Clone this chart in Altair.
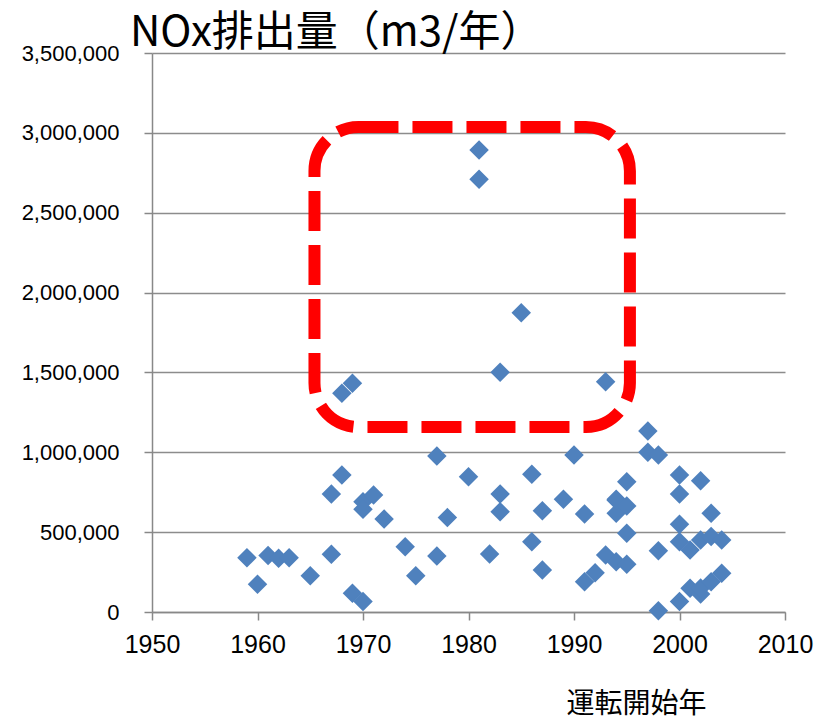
import altair as alt
import pandas as pd

years = [1959, 1960, 1961, 1962, 1963, 1965, 1967, 1967, 1968, 1968, 1969, 1969, 1970, 1970, 1970, 1971, 1972,
         1974, 1975, 1977, 1977, 1978, 1980, 1981, 1981, 1982, 1983, 1983, 1983, 1985, 1986, 1986, 1987, 1987,
         1989, 1990, 1991, 1991, 1992, 1993, 1993, 1994, 1994, 1994, 1994, 1995, 1995, 1995, 1995,
         1997, 1997, 1998, 1998, 1998, 2000, 2000, 2000, 2000, 2000, 2001, 2001, 2002, 2002, 2002, 2002,
         2003, 2003, 2003, 2004, 2004]
values = [340000, 173000, 353000, 336000, 340000, 227000, 739000, 361000, 858000, 1369000, 1432000, 117000,
          691000, 643000, 65000, 733000, 582000,
          409000, 227000, 977000, 351000, 591000, 847000, 2893000, 2710000, 363000, 1501000, 739000, 628000,
          1874000, 862000, 440000, 634000, 263000,
          706000, 983000, 614000, 190000, 246000, 357000, 1442000, 706000, 618000, 315000, 700000, 816000,
          664000, 493000, 299000,
          1133000, 1000000, 983000, 384000, 8000, 858000, 739000, 549000, 440000, 65000, 388000, 148000,
          822000, 451000, 113000, 150000,
          618000, 472000, 190000, 451000, 242000]

df = pd.DataFrame({"year": years, "nox": values})

# annotation box (data coordinates)
box_x = [1965.4]
box_x2 = [1995.3]
box_y = [3037000]
box_y2 = [1158000]
box = pd.DataFrame({"x": box_x, "x2": box_x2, "y": box_y, "y2": box_y2})

num_font = "Liberation Sans"
jp_font = "Noto Sans CJK JP"

xs = alt.Scale(domain=[1950, 2010], nice=False, zero=False)
ys = alt.Scale(domain=[0, 3500000], nice=False)

x_axis = alt.Axis(values=[1950, 1960, 1970, 1980, 1990, 2000, 2010], format="d",
                  title="運転開始年", titleFont=jp_font, titleFontSize=28, titleFontWeight="normal",
                  titleColor="#000", titleX=484, titleY=92, titleAnchor="middle",
                  titleBaseline="middle",
                  labelFont=num_font, labelFontSize=25, labelColor="#000", labelPadding=12,
                  tickSize=8, tickColor="#888", tickWidth=1.5,
                  domainColor="#888", domainWidth=1.5, grid=False, labelFlush=False)
y_axis = alt.Axis(values=list(range(0, 3500001, 500000)), format=",.0f",
                  title=None, labelFont=num_font, labelFontSize=22, labelColor="#000",
                  labelPadding=25, tickSize=8, tickColor="#888", tickWidth=1.5,
                  domainColor="#888", domainWidth=1.5,
                  grid=True, gridColor="#8c8c8c", gridWidth=1.5)

points = alt.Chart(df).mark_point(
    shape="diamond", filled=True, size=380, color="#4F81BD", opacity=1
).encode(
    x=alt.X("year:Q", scale=xs, axis=x_axis),
    y=alt.Y("nox:Q", scale=ys, axis=y_axis),
)

rect = alt.Chart(box).mark_rect(
    fill=None, fillOpacity=0, stroke="#FF0000", strokeWidth=12, strokeDash=[40, 14], cornerRadius=44
).encode(
    x=alt.X("x:Q", scale=xs, axis=x_axis), x2="x2:Q",
    y=alt.Y("y:Q", scale=ys, axis=y_axis), y2="y2:Q",
)

chart = alt.layer(points, rect).properties(
    width=633, height=559,
    background="white",
    title=alt.TitleParams("NOx排出量（m3/年）", font=jp_font, fontSize=42, fontWeight="normal",
                          color="#000", anchor="start", frame="group", dx=-22, offset=-13),
    padding={"left": 152, "top": 53, "right": 32, "bottom": 110},
    autosize=alt.AutoSizeParams(type="none"),
).configure_view(stroke="transparent", strokeWidth=0)

chart.save("out.html", embed_options={"renderer": "svg", "actions": False})
